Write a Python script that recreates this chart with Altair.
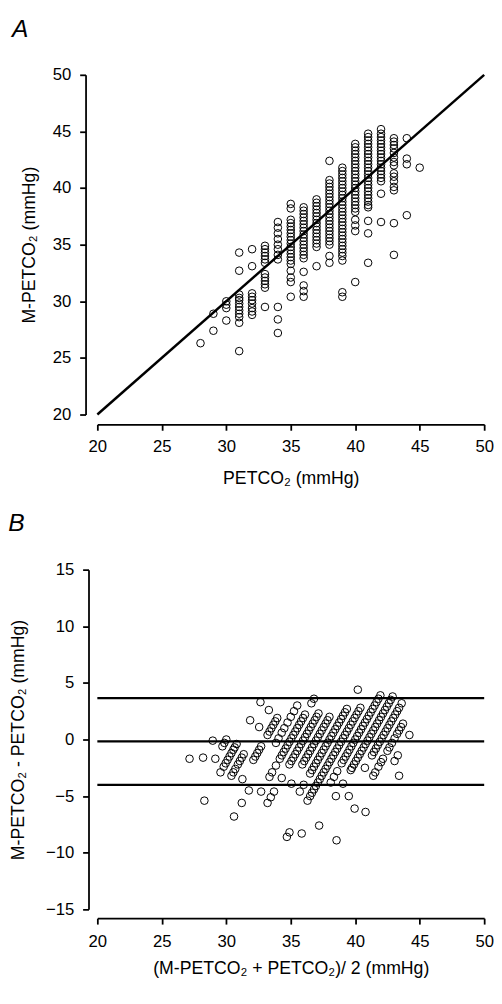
import altair as alt
import pandas as pd

# ---- data (panel A: PETCO2 columns -> M-PETCO2 values) ----
petco2_levels = [28, 29, 30, 31, 32, 33, 34, 35, 36, 37, 38, 39, 40, 41, 42, 43, 44, 45]

m_28 = [26.3]
m_29 = [28.9, 27.4]
m_30 = [30.0, 29.7, 29.4, 28.3]
m_31 = [34.3, 32.7, 30.6, 30.3, 30.1, 29.8, 29.5, 29.2, 28.9, 28.6, 28.1, 25.6]
m_32 = [34.6, 33.1, 30.7, 30.4, 30.1, 29.8, 29.4, 29.1, 28.8]
m_33 = [34.9, 34.6, 34.3, 34.0, 33.7, 33.4, 32.4, 32.1, 31.8, 31.5, 31.2, 29.5]
m_34 = [37.0, 36.5, 36.0, 35.5, 35.0, 34.6, 34.1, 33.7, 29.5, 28.4, 27.2]
m_35 = [38.6, 38.2, 37.2, 36.9, 36.6, 36.3, 36.0, 35.7, 35.4, 35.1, 34.8, 34.5,
        34.2, 33.9, 33.6, 33.3, 32.7, 32.1, 31.7, 30.4]
m_36 = [38.3, 38.0, 37.7, 37.4, 37.1, 36.8, 36.5, 36.2, 35.9, 35.6, 35.3, 35.0,
        34.7, 34.4, 34.1, 33.8, 32.6, 31.4, 30.9, 30.4]
m_37 = [39.0, 38.7, 38.4, 38.1, 37.8, 37.5, 37.2, 36.9, 36.6, 36.3, 36.0, 35.7,
        35.4, 35.1, 34.8, 33.1]
m_38 = [42.4, 40.7, 40.4, 40.1, 39.8, 39.5, 39.2, 38.9, 38.6, 38.3, 38.0, 37.7,
        37.4, 37.1, 36.8, 36.5, 36.2, 35.9, 35.6, 35.3, 35.0, 34.0, 33.4]
m_39 = [41.8, 41.5, 41.2, 40.9, 40.6, 40.3, 40.0, 39.7, 39.4, 39.1, 38.8, 38.5,
        38.2, 37.9, 37.6, 37.3, 37.0, 36.7, 36.4, 36.1, 35.8, 35.5, 35.2, 34.9,
        34.6, 34.3, 34.0, 33.6, 30.8, 30.4]
m_40 = [43.9, 43.6, 43.3, 43.0, 42.7, 42.4, 42.1, 41.8, 41.5, 41.2, 40.9, 40.6,
        40.3, 40.0, 39.7, 39.4, 39.1, 38.8, 38.5, 38.2, 37.9, 37.2, 36.7, 36.2, 31.7]
m_41 = [44.8, 44.5, 44.2, 43.9, 43.6, 43.3, 43.0, 42.7, 42.4, 42.1, 41.8, 41.5,
        41.2, 40.9, 40.6, 40.3, 40.0, 39.7, 39.4, 39.1, 38.8, 38.5, 38.3, 37.1,
        36.0, 33.4]
m_42 = [45.2, 44.8, 44.5, 44.2, 43.9, 43.6, 43.3, 43.0, 42.7, 42.4, 42.1, 41.8,
        41.5, 41.2, 40.9, 40.6, 39.5, 37.0]
m_43 = [44.4, 44.1, 43.8, 43.5, 43.1, 42.7, 42.3, 42.0, 41.3, 41.0, 40.6, 40.1,
        39.8, 36.9, 34.1]
m_44 = [44.4, 42.6, 42.1, 37.6]
m_45 = [41.8]

m_columns = [m_28, m_29, m_30, m_31, m_32, m_33, m_34, m_35, m_36, m_37, m_38,
             m_39, m_40, m_41, m_42, m_43, m_44, m_45]

# identity line end points
identity_x = [20, 50]
identity_y = [20, 50]

# Bland-Altman lines: upper limit, mean bias, lower limit
ba_lines = [3.65, -0.17, -4.0]

tick_vals_a = [20, 25, 30, 35, 40, 45, 50]
tick_vals_bx = [20, 25, 30, 35, 40, 45, 50]
tick_vals_by = [-15, -10, -5, 0, 5, 10, 15]

# ---- tables ----
rows = []
for xv, ys in zip(petco2_levels, m_columns):
    for yv in ys:
        rows.append({"petco2": xv, "m_petco2": yv})
df = pd.DataFrame(rows)
df_line = pd.DataFrame({"x": identity_x, "y": identity_y})
df_ba = pd.DataFrame({"v": ba_lines})

FONT = "Liberation Sans"
W, H = 394, 346


def axis(title, values, offset, label_padding, title_padding):
    return alt.Axis(
        title=title, values=values, offset=offset, grid=False,
        tickSize=6, tickWidth=1.8, domainWidth=1.8,
        domainColor="black", tickColor="black",
        labelColor="black", titleColor="black",
        labelFont=FONT, titleFont=FONT, labelFontSize=17, titleFontSize=18,
        titleFontWeight="normal", labelPadding=label_padding,
        titlePadding=title_padding, labelFlush=False, labelOverlap=False,
    )


def panel_title(letter, dx):
    return alt.TitleParams(
        letter, anchor="start", frame="bounds", fontSize=25, fontStyle="italic",
        fontWeight="normal", font=FONT, color="black", offset=25, dx=dx,
    )


sx_a = alt.Scale(domain=[20, 50], nice=False, zero=False)
sy_a = alt.Scale(domain=[20, 50], nice=False, zero=False)

pts_a = alt.Chart(df).mark_point(
    shape="circle", filled=False, size=60, strokeWidth=1, color="black", opacity=1
).encode(
    x=alt.X("petco2:Q", scale=sx_a,
            axis=axis("PETCO₂ (mmHg)", tick_vals_a, 10, 9, 15)),
    y=alt.Y("m_petco2:Q", scale=sy_a,
            axis=axis("M-PETCO₂ (mmHg)", tick_vals_a, 12, 9, 14)),
)
line_a = alt.Chart(df_line).mark_line(color="black", strokeWidth=2.5).encode(
    x=alt.X("x:Q", scale=sx_a), y=alt.Y("y:Q", scale=sy_a)
)
chart_a = alt.layer(pts_a, line_a).properties(
    width=W, height=H, title=panel_title("A", -9)
)

sx_b = alt.Scale(domain=[20, 50], nice=False, zero=False)
sy_b = alt.Scale(domain=[-15, 15], nice=False, zero=False)

pts_b = alt.Chart(df).transform_calculate(
    avg="(datum.m_petco2 + datum.petco2) / 2",
    diff="datum.m_petco2 - datum.petco2",
).mark_point(
    shape="circle", filled=False, size=60, strokeWidth=1, color="black", opacity=1
).encode(
    x=alt.X("avg:Q", scale=sx_b,
            axis=axis("(M-PETCO₂ + PETCO₂)/ 2 (mmHg)", tick_vals_bx, 9, 10, 10)),
    y=alt.Y("diff:Q", scale=sy_b,
            axis=axis("M-PETCO₂ - PETCO₂ (mmHg)", tick_vals_by, 9, 9, 18)),
)
rules_b = alt.Chart(df_ba).mark_rule(color="black", strokeWidth=2.2).encode(
    y=alt.Y("v:Q", scale=sy_b)
)
chart_b = alt.layer(pts_b, rules_b).properties(
    width=W, height=H, title=panel_title("B", -2)
)

chart = alt.vconcat(chart_a, chart_b, spacing=25).configure_view(
    stroke=None
).properties(
    padding={"left": 0, "top": 0, "right": 0, "bottom": 0}
)

chart.save("out.html", embed_options={"renderer": "svg", "actions": False})
